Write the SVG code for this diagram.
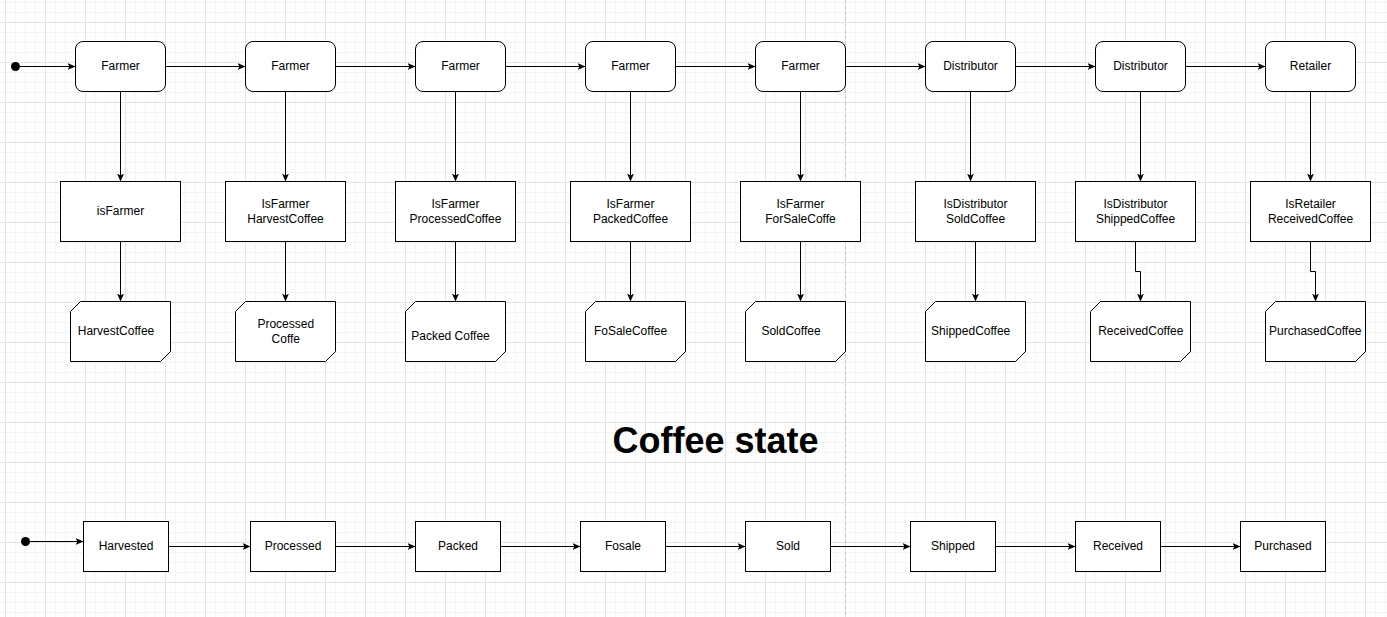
<svg xmlns="http://www.w3.org/2000/svg" width="1387" height="617" viewBox="0 0 1387 617">
<style>
.t{font-family:"Liberation Sans",Arial,sans-serif;font-size:12px;fill:#000;text-anchor:middle}
.title{font-family:"Liberation Sans",Arial,sans-serif;font-size:36px;font-weight:bold;fill:#000;text-anchor:middle}
.n{fill:#fff;stroke:#000;stroke-width:1}
.c{fill:none;stroke:#000;stroke-width:1}
</style>
<defs>
<pattern id="minor" x="5" y="2" width="10" height="10" patternUnits="userSpaceOnUse">
<path d="M0.5,0V10M0,0.5H10" fill="none" stroke="#f4f4f4" stroke-width="1"/>
</pattern>
<pattern id="major" x="5" y="22" width="40" height="40" patternUnits="userSpaceOnUse">
<path d="M0.5,0V40M0,0.5H40" fill="none" stroke="#e4e4e4" stroke-width="1"/>
</pattern>
<marker id="arr" viewBox="0 0 8 7" refX="8" refY="3.5" markerWidth="8" markerHeight="7" markerUnits="userSpaceOnUse" orient="auto">
<path d="M0,0 L8,3.5 L0,7 L2,3.5 z" fill="#000"/>
</marker>
</defs>
<rect width="1387" height="617" fill="#fff"/>
<rect width="1387" height="617" fill="url(#minor)"/>
<rect width="1387" height="617" fill="url(#major)"/>
<line x1="845.5" y1="0" x2="845.5" y2="617" stroke="#c4c4c4" stroke-width="1" stroke-dasharray="3 3"/>

<g id="connectors" class="c">
<circle cx="15.5" cy="66.5" r="4.5" fill="#000" stroke="none"/>
<path class="c" d="M15.5,66.5H75.5" marker-end="url(#arr)"/>
<path class="c" d="M165.5,66.5H245.5" marker-end="url(#arr)"/>
<path class="c" d="M335.5,66.5H415.5" marker-end="url(#arr)"/>
<path class="c" d="M505.5,66.5H585.5" marker-end="url(#arr)"/>
<path class="c" d="M675.5,66.5H755.5" marker-end="url(#arr)"/>
<path class="c" d="M845.5,66.5H925.5" marker-end="url(#arr)"/>
<path class="c" d="M1015.5,66.5H1095.5" marker-end="url(#arr)"/>
<path class="c" d="M1185.5,66.5H1265.5" marker-end="url(#arr)"/>

<path class="c" d="M120.5,91.5V181.5" marker-end="url(#arr)"/>
<path class="c" d="M285.5,91.5V181.5" marker-end="url(#arr)"/>
<path class="c" d="M455.5,91.5V181.5" marker-end="url(#arr)"/>
<path class="c" d="M630.5,91.5V181.5" marker-end="url(#arr)"/>
<path class="c" d="M800.5,91.5V181.5" marker-end="url(#arr)"/>
<path class="c" d="M970.5,91.5V181.5" marker-end="url(#arr)"/>
<path class="c" d="M1140.5,91.5V181.5" marker-end="url(#arr)"/>
<path class="c" d="M1310.5,91.5V181.5" marker-end="url(#arr)"/>

<path class="c" d="M120.5,241.5V301.5" marker-end="url(#arr)"/>
<path class="c" d="M285.5,241.5V301.5" marker-end="url(#arr)"/>
<path class="c" d="M455.5,241.5V301.5" marker-end="url(#arr)"/>
<path class="c" d="M630.5,241.5V301.5" marker-end="url(#arr)"/>
<path class="c" d="M800.5,241.5V301.5" marker-end="url(#arr)"/>
<path class="c" d="M975.5,241.5V301.5" marker-end="url(#arr)"/>
<path class="c" d="M1135.5,241.5V271.5H1140.5V301.5" marker-end="url(#arr)"/>
<path class="c" d="M1310.5,241.5V271.5H1315.5V301.5" marker-end="url(#arr)"/>

<circle cx="25.5" cy="541.5" r="4.5" fill="#000" stroke="none"/>
<path class="c" d="M25.5,541.5H83.5" marker-end="url(#arr)"/>
<path class="c" d="M168.5,546.5H250.5" marker-end="url(#arr)"/>
<path class="c" d="M335.5,546.5H415.5" marker-end="url(#arr)"/>
<path class="c" d="M500.5,546.5H580.5" marker-end="url(#arr)"/>
<path class="c" d="M665.5,546.5H745.5" marker-end="url(#arr)"/>
<path class="c" d="M830.5,546.5H910.5" marker-end="url(#arr)"/>
<path class="c" d="M995.5,546.5H1075.5" marker-end="url(#arr)"/>
<path class="c" d="M1160.5,546.5H1240.5" marker-end="url(#arr)"/>
</g>

<g id="actor1"><rect class="n" x="75.5" y="41.5" width="90" height="50" rx="7.5"/><text class="t" x="120.5" y="70">Farmer</text></g>
<g id="actor2"><rect class="n" x="245.5" y="41.5" width="90" height="50" rx="7.5"/><text class="t" x="290.5" y="70">Farmer</text></g>
<g id="actor3"><rect class="n" x="415.5" y="41.5" width="90" height="50" rx="7.5"/><text class="t" x="460.5" y="70">Farmer</text></g>
<g id="actor4"><rect class="n" x="585.5" y="41.5" width="90" height="50" rx="7.5"/><text class="t" x="630.5" y="70">Farmer</text></g>
<g id="actor5"><rect class="n" x="755.5" y="41.5" width="90" height="50" rx="7.5"/><text class="t" x="800.5" y="70">Farmer</text></g>
<g id="actor6"><rect class="n" x="925.5" y="41.5" width="90" height="50" rx="7.5"/><text class="t" x="970.5" y="70">Distributor</text></g>
<g id="actor7"><rect class="n" x="1095.5" y="41.5" width="90" height="50" rx="7.5"/><text class="t" x="1140.5" y="70">Distributor</text></g>
<g id="actor8"><rect class="n" x="1265.5" y="41.5" width="90" height="50" rx="7.5"/><text class="t" x="1310.5" y="70">Retailer</text></g>

<g id="check1"><rect class="n" x="60.5" y="181.5" width="120" height="60"/><text class="t" x="120.5" y="215">isFarmer</text></g>
<g id="check2"><rect class="n" x="225.5" y="181.5" width="120" height="60"/><text class="t" x="285.5" y="207.5">IsFarmer</text><text class="t" x="285.5" y="222.5">HarvestCoffee</text></g>
<g id="check3"><rect class="n" x="395.5" y="181.5" width="120" height="60"/><text class="t" x="455.5" y="207.5">IsFarmer</text><text class="t" x="455.5" y="222.5">ProcessedCoffee</text></g>
<g id="check4"><rect class="n" x="570.5" y="181.5" width="120" height="60"/><text class="t" x="630.5" y="207.5">IsFarmer</text><text class="t" x="630.5" y="222.5">PackedCoffee</text></g>
<g id="check5"><rect class="n" x="740.5" y="181.5" width="120" height="60"/><text class="t" x="800.5" y="207.5">IsFarmer</text><text class="t" x="800.5" y="222.5">ForSaleCoffe</text></g>
<g id="check6"><rect class="n" x="915.5" y="181.5" width="120" height="60"/><text class="t" x="975.5" y="207.5">IsDistributor</text><text class="t" x="975.5" y="222.5">SoldCoffee</text></g>
<g id="check7"><rect class="n" x="1075.5" y="181.5" width="120" height="60"/><text class="t" x="1135.5" y="207.5">IsDistributor</text><text class="t" x="1135.5" y="222.5">ShippedCoffee</text></g>
<g id="check8"><rect class="n" x="1250.5" y="181.5" width="120" height="60"/><text class="t" x="1310.5" y="207.5">IsRetailer</text><text class="t" x="1310.5" y="222.5">ReceivedCoffee</text></g>

<g id="event1"><path class="n" d="M80.5,301.5H170.5V351.5L160.5,361.5H70.5V311.5Z"/><text class="t" x="116" y="335">HarvestCoffee</text></g>
<g id="event2"><path class="n" d="M245.5,301.5H335.5V351.5L325.5,361.5H235.5V311.5Z"/><text class="t" x="285.8" y="328">Processed</text><text class="t" x="285.8" y="342.5">Coffe</text></g>
<g id="event3"><path class="n" d="M415.5,301.5H505.5V351.5L495.5,361.5H405.5V311.5Z"/><text class="t" x="450.5" y="340">Packed Coffee</text></g>
<g id="event4"><path class="n" d="M595.5,301.5H685.5V351.5L675.5,361.5H585.5V311.5Z"/><text class="t" x="630.5" y="335">FoSaleCoffee</text></g>
<g id="event5"><path class="n" d="M755.5,301.5H845.5V351.5L835.5,361.5H745.5V311.5Z"/><text class="t" x="791" y="335">SoldCoffee</text></g>
<g id="event6"><path class="n" d="M935.5,301.5H1025.5V351.5L1015.5,361.5H925.5V311.5Z"/><text class="t" x="970.7" y="335">ShippedCoffee</text></g>
<g id="event7"><path class="n" d="M1100.5,301.5H1190.5V351.5L1180.5,361.5H1090.5V311.5Z"/><text class="t" x="1140.8" y="335">ReceivedCoffee</text></g>
<g id="event8"><path class="n" d="M1275.5,301.5H1365.5V351.5L1355.5,361.5H1265.5V311.5Z"/><text class="t" x="1315.3" y="335">PurchasedCoffee</text></g>

<g id="title"><text class="title" x="715.5" y="453">Coffee state</text></g>

<g id="state1"><rect class="n" x="83.5" y="521.5" width="85" height="50"/><text class="t" x="126" y="549.5">Harvested</text></g>
<g id="state2"><rect class="n" x="250.5" y="521.5" width="85" height="50"/><text class="t" x="293" y="549.5">Processed</text></g>
<g id="state3"><rect class="n" x="415.5" y="521.5" width="85" height="50"/><text class="t" x="458" y="549.5">Packed</text></g>
<g id="state4"><rect class="n" x="580.5" y="521.5" width="85" height="50"/><text class="t" x="623" y="549.5">Fosale</text></g>
<g id="state5"><rect class="n" x="745.5" y="521.5" width="85" height="50"/><text class="t" x="788" y="549.5">Sold</text></g>
<g id="state6"><rect class="n" x="910.5" y="521.5" width="85" height="50"/><text class="t" x="953" y="549.5">Shipped</text></g>
<g id="state7"><rect class="n" x="1075.5" y="521.5" width="85" height="50"/><text class="t" x="1118" y="549.5">Received</text></g>
<g id="state8"><rect class="n" x="1240.5" y="521.5" width="85" height="50"/><text class="t" x="1283" y="549.5">Purchased</text></g>
</svg>
